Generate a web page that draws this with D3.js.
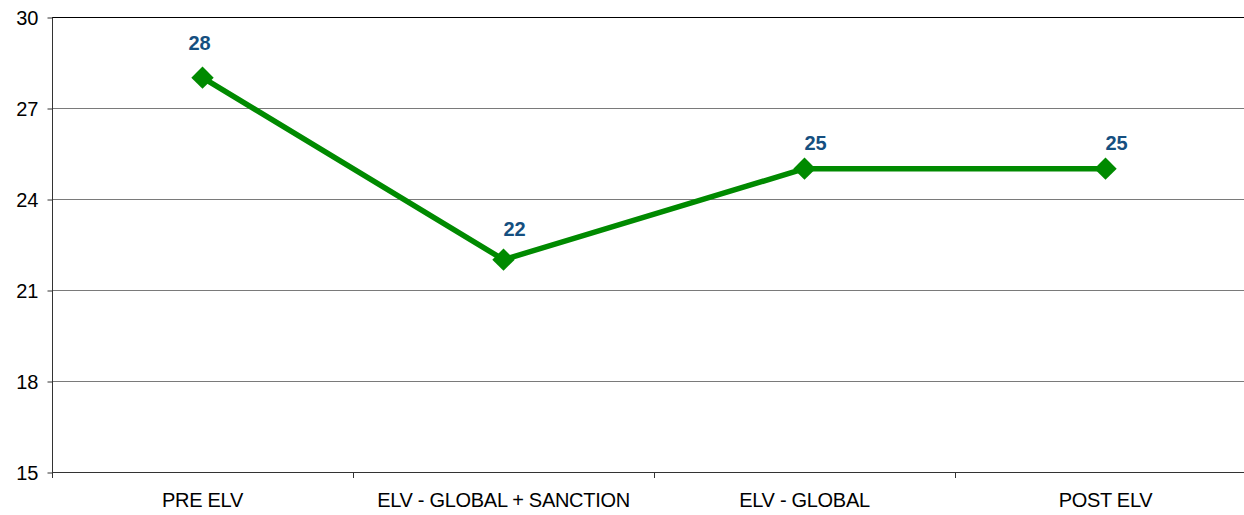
<!DOCTYPE html>
<html>
<head>
<meta charset="utf-8">
<script src="https://cdn.jsdelivr.net/npm/d3@7"></script>
<style>
  body { margin: 0; background: #fff; overflow: hidden; }
  text { font-family: "Liberation Sans", Arial, sans-serif; }
</style>
</head>
<body>
<script>
var svgWidth = 1244;
var svgHeight = 515;

var categories = ["PRE ELV", "ELV - GLOBAL + SANCTION", "ELV - GLOBAL", "POST ELV"];
var values = [28, 22, 25, 25];
var yTicks = [15, 18, 21, 24, 27, 30];

var Margin = { top: 17, left: 52 };
var Width = 1204;
var Height = 455;

var svg = d3.select("body")
  .append("svg")
  .attr("width", svgWidth)
  .attr("height", svgHeight);

var chartGroup = svg.append("g")
  .attr("transform", `translate(${Margin.left}, ${Margin.top})`);

var xScale = d3.scaleBand()
  .domain(categories)
  .range([0, Width])
  .padding(0);

var yScale = d3.scaleLinear()
  .domain([15, 30])
  .range([Height, 0]);

// gridlines
chartGroup.selectAll(".grid")
  .data(yTicks.slice(1))
  .enter()
  .append("line")
  .attr("x1", 0)
  .attr("x2", Width)
  .attr("y1", d => yScale(d) + 0.5)
  .attr("y2", d => yScale(d) + 0.5)
  .attr("stroke", d => d === 30 ? "#000" : "#7a7a7a")
  .attr("stroke-width", 1);

// y axis
var leftAxis = d3.axisLeft(yScale).tickValues(yTicks).tickSize(5).tickPadding(9);
var yAxis = chartGroup.append("g")
  .attr("transform", "translate(0.5,0.5)")
  .call(leftAxis);
yAxis.select(".domain").attr("stroke", "#333").attr("d", `M0,0V${Height}`);
yAxis.selectAll(".tick line").attr("stroke", "#333");
yAxis.selectAll("text")
  .style("font-size", "20px")
  .attr("fill", "#000")
  .attr("dy", "0.35em");

// x axis
var bottomAxis = d3.axisBottom(xScale).tickSize(0).tickPadding(20);
var xAxis = chartGroup.append("g")
  .attr("transform", `translate(0, ${Height + 0.5})`)
  .call(bottomAxis);
xAxis.select(".domain").attr("stroke", "#333").attr("d", `M0,0H${Width}`);
xAxis.selectAll("text")
  .style("font-size", "20px")
  .style("letter-spacing", "-0.3px")
  .attr("fill", "#000");

// category tick marks at band boundaries
chartGroup.selectAll(".xtick")
  .data(categories)
  .enter()
  .append("line")
  .attr("x1", d => Math.round(xScale(d)) + 0.5)
  .attr("x2", d => Math.round(xScale(d)) + 0.5)
  .attr("y1", Height)
  .attr("y2", Height + 6)
  .attr("stroke", "#333");

var cx = d => xScale(d) + xScale.bandwidth() / 2;

var line = d3.line()
  .x((d, i) => cx(categories[i]))
  .y(d => yScale(d));

chartGroup.append("path")
  .datum(values)
  .attr("d", line)
  .attr("fill", "none")
  .attr("stroke", "#008a00")
  .attr("stroke-width", 5.5)
  .attr("stroke-linejoin", "round");

chartGroup.selectAll(".marker")
  .data(values)
  .enter()
  .append("path")
  .attr("d", d3.symbol().type(d3.symbolDiamond2).size(320))
  .attr("transform", (d, i) => `translate(${cx(categories[i])}, ${yScale(d)})`)
  .attr("fill", "#008a00");

// data labels sit above-right of the markers, first one nudged up-left
chartGroup.selectAll(".label")
  .data(values)
  .enter()
  .append("text")
  .attr("x", (d, i) => cx(categories[i]) + (i === 0 ? -3 : 11))
  .attr("y", (d, i) => yScale(d) - (i === 0 ? 28 : (i === 1 ? 24 : 19)))
  .attr("text-anchor", "middle")
  .style("font-size", "20px")
  .style("font-weight", "bold")
  .attr("fill", "#154f80")
  .text(d => d);
</script>
</body>
</html>
